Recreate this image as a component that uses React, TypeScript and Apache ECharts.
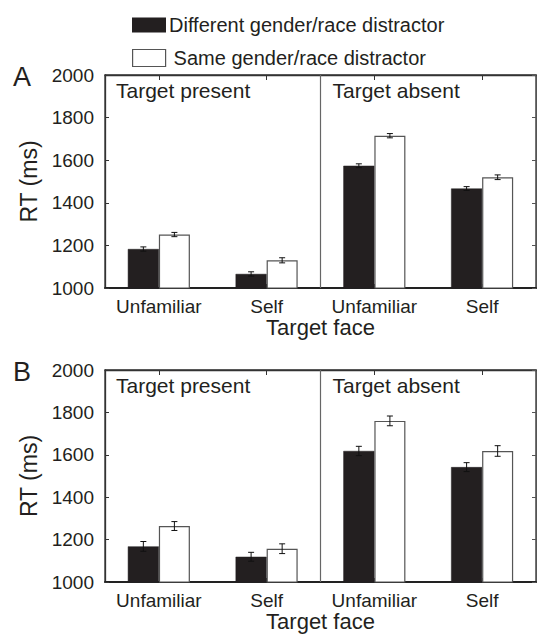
import React, { useEffect, useRef } from "react";
import * as echarts from "echarts";

// Target face categories (Target present: first two, Target absent: last two)
const categories = ["Unfamiliar", "Self", "Unfamiliar", "Self"];
const conditionLabels = ["Target present", "Target absent"];
const seriesNames = ["Different gender/race distractor", "Same gender/race distractor"];
const panelLetters = ["A", "B"];

// Mean RT (ms) and standard error, panel A
const aDifferent = [1183, 1066, 1574, 1467];
const aDifferentSE = [10, 10, 9, 9];
const aSame = [1251, 1130, 1715, 1520];
const aSameSE = [10, 12, 10, 11];

// Mean RT (ms) and standard error, panel B
const bDifferent = [1168, 1119, 1618, 1542];
const bDifferentSE = [23, 21, 22, 21];
const bSame = [1264, 1157, 1760, 1618];
const bSameSE = [21, 23, 23, 25];

const yMin = 1000;
const yMax = 2000;
const yStep = 200;

const FONT = "'Liberation Sans', Arial, Helvetica, sans-serif";
const INK = "#231f20";
const BAR_RATIO = 0.288;

const panels = [
  { diff: aDifferent, diffSE: aDifferentSE, same: aSame, sameSE: aSameSE, top: 75, height: 213 },
  { diff: bDifferent, diffSE: bDifferentSE, same: bSame, sameSE: bSameSE, top: 370, height: 212 },
];

const GRID_LEFT = 105;
const GRID_WIDTH = 431;

function errorBarSeries(gridIdx: number, means: number[], ses: number[], side: number) {
  return {
    type: "custom",
    xAxisIndex: gridIdx * 2,
    yAxisIndex: gridIdx * 2,
    z: 5,
    silent: true,
    data: means.map((m, i) => [i, m, ses[i]]),
    encode: { x: 0, y: 1 },
    renderItem: (params: any, api: any) => {
      const idx = api.value(0);
      const mean = api.value(1);
      const se = api.value(2);
      const band = api.size([1, 0])[0];
      const dx = (side * band * BAR_RATIO) / 2;
      const hi = api.coord([idx, mean + se]);
      const lo = api.coord([idx, mean - se]);
      const x = hi[0] + dx;
      const cap = 3;
      const style = { stroke: "#111", lineWidth: 1 };
      return {
        type: "group",
        children: [
          { type: "line", shape: { x1: x, y1: hi[1], x2: x, y2: lo[1] }, style },
          { type: "line", shape: { x1: x - cap, y1: hi[1], x2: x + cap, y2: hi[1] }, style },
          { type: "line", shape: { x1: x - cap, y1: lo[1], x2: x + cap, y2: lo[1] }, style },
        ],
      };
    },
  };
}

// vertical rule between the "Target present" and "Target absent" category pairs
function dividerSeries(gridIdx: number) {
  return {
    type: "custom",
    xAxisIndex: gridIdx * 2,
    yAxisIndex: gridIdx * 2,
    z: 1,
    silent: true,
    data: [[1, yMin, yMax]],
    encode: { x: 0, y: 1 },
    renderItem: (params: any, api: any) => {
      const band = api.size([1, 0])[0];
      const lo = api.coord([api.value(0), api.value(1)]);
      const hi = api.coord([api.value(0), api.value(2)]);
      const x = lo[0] + band / 2;
      return {
        type: "line",
        shape: { x1: x, y1: lo[1], x2: x, y2: hi[1] },
        style: { stroke: "#666", lineWidth: 1.2 },
      };
    },
  };
}

function buildOption() {
  const grid: any[] = [];
  const xAxis: any[] = [];
  const yAxis: any[] = [];
  const series: any[] = [];
  const graphic: any[] = [];

  panels.forEach((p, g) => {
    grid.push({
      left: GRID_LEFT,
      top: p.top,
      width: GRID_WIDTH,
      height: p.height,
      show: true,
      borderColor: "#333",
      borderWidth: 1.3,
      backgroundColor: "transparent",
    });

    // bottom category axis, carries labels and name
    xAxis.push({
      type: "category",
      gridIndex: g,
      data: categories,
      position: "bottom",
      axisLine: { show: true, onZero: false, lineStyle: { color: "#222", width: 1.8 } },
      axisTick: { show: true, inside: true, alignWithLabel: true, length: 4, lineStyle: { color: "#333", width: 1 } },
      axisLabel: {
        interval: 0,
        fontFamily: FONT,
        fontSize: 19,
        color: INK,
        margin: 9,
      },
      splitLine: { show: false },
      name: "Target face",
      nameLocation: "middle",
      nameGap: 28,
      nameTextStyle: { fontFamily: FONT, fontSize: 22, color: INK },
    });
    // top mirror axis with inward ticks
    xAxis.push({
      type: "category",
      gridIndex: g,
      data: categories,
      position: "top",
      axisLine: { show: true, onZero: false, lineStyle: { color: "#333", width: 1.3 } },
      axisTick: { show: true, inside: true, alignWithLabel: true, length: 5, lineStyle: { color: "#333", width: 1 } },
      axisLabel: { show: false },
      splitLine: { show: false },
    });

    yAxis.push({
      type: "value",
      gridIndex: g,
      min: yMin,
      max: yMax,
      interval: yStep,
      position: "left",
      axisLine: { show: true, onZero: false, lineStyle: { color: "#333", width: 1.3 } },
      axisTick: { show: true, inside: true, length: 4, lineStyle: { color: "#333", width: 1 } },
      axisLabel: {
        fontFamily: FONT,
        fontSize: 19,
        color: INK,
        margin: 11,
        formatter: (v: number) => String(v),
      },
      splitLine: { show: false },
      name: "RT (ms)",
      nameLocation: "middle",
      nameGap: 64,
      nameTextStyle: { fontFamily: FONT, fontSize: 23, color: INK },
    });
    yAxis.push({
      type: "value",
      gridIndex: g,
      min: yMin,
      max: yMax,
      interval: yStep,
      position: "right",
      axisLine: { show: true, onZero: false, lineStyle: { color: "#555", width: 1.2 } },
      axisTick: { show: true, inside: true, length: 4, lineStyle: { color: "#555", width: 1 } },
      axisLabel: { show: false },
      splitLine: { show: false },
    });

    series.push(dividerSeries(g));
    series.push({
      type: "bar",
      name: seriesNames[0],
      xAxisIndex: g * 2,
      yAxisIndex: g * 2,
      data: p.diff,
      barWidth: BAR_RATIO * 100 + "%",
      barGap: "0%",
      itemStyle: { color: INK, borderColor: INK, borderWidth: 0.5 },
    });
    series.push({
      type: "bar",
      name: seriesNames[1],
      xAxisIndex: g * 2,
      yAxisIndex: g * 2,
      data: p.same,
      barWidth: BAR_RATIO * 100 + "%",
      barGap: "0%",
      itemStyle: { color: "#ffffff", borderColor: "#555", borderWidth: 1.2 },
    });
    series.push(errorBarSeries(g, p.diff, p.diffSE, -1));
    series.push(errorBarSeries(g, p.same, p.sameSE, 1));

    // panel letter and condition headings
    graphic.push({
      type: "text",
      x: 13,
      y: p.top + 2,
      style: { text: panelLetters[g], font: `27px ${FONT}`, fill: INK, verticalAlign: "middle" },
    });
    graphic.push({
      type: "text",
      x: GRID_LEFT + 11,
      y: p.top + 15,
      style: { text: conditionLabels[0], font: `21px ${FONT}`, fill: INK, verticalAlign: "middle" },
    });
    graphic.push({
      type: "text",
      x: GRID_LEFT + GRID_WIDTH / 2 + 12,
      y: p.top + 15,
      style: { text: conditionLabels[1], font: `21px ${FONT}`, fill: INK, verticalAlign: "middle" },
    });
  });

  const legendText = { fontFamily: FONT, fontSize: 20, color: INK };

  return {
    animation: false,
    backgroundColor: "#ffffff",
    grid,
    xAxis,
    yAxis,
    series,
    graphic,
    legend: [
      {
        left: 127,
        top: 10,
        orient: "vertical",
        itemWidth: 34,
        itemHeight: 15,
        selectedMode: false,
        data: [{ name: seriesNames[0], icon: "rect", itemStyle: { color: INK, borderWidth: 0 } }],
        textStyle: { ...legendText, padding: [0, 0, 0, -2] },
      },
      {
        left: 127,
        top: 43,
        orient: "vertical",
        itemWidth: 33,
        itemHeight: 17,
        selectedMode: false,
        data: [
          {
            name: seriesNames[1],
            icon: "rect",
            itemStyle: { color: "#ffffff", borderColor: "#555", borderWidth: 1.2 },
          },
        ],
        textStyle: { ...legendText, padding: [0, 0, 0, 3] },
      },
    ],
  };
}

export default function App() {
  const ref = useRef<HTMLDivElement>(null);

  useEffect(() => {
    if (!ref.current) return;
    const chart = echarts.init(ref.current, undefined, { renderer: "svg" });
    chart.setOption(buildOption() as any);
    return () => chart.dispose();
  }, []);

  return (
    <div
      ref={ref}
      style={{ position: "absolute", left: 0, top: 0, width: 537, height: 639, background: "#fff" }}
    />
  );
}
